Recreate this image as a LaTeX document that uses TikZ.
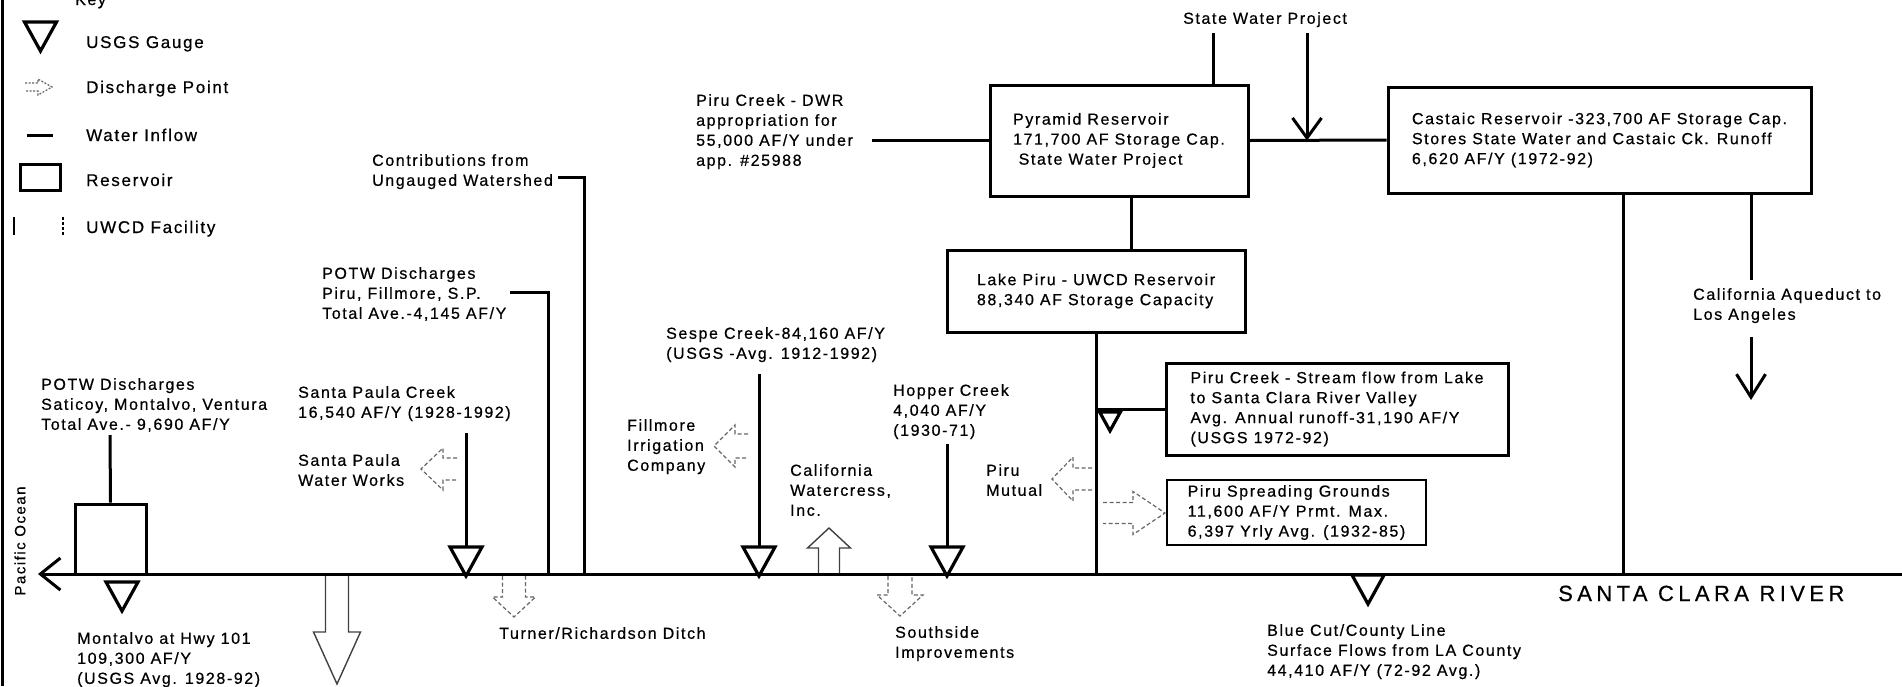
\documentclass[tikz,border=0pt]{standalone}
\usepackage{fontspec}
\setmainfont{Liberation Sans}[LetterSpace=10, FakeBold=0.6]
\usetikzlibrary{arrows.meta}

\begin{document}
\begin{tikzpicture}[
  x=1pt, y=-1pt,
  font=\fontsize{16}{20}\selectfont,
  every node/.style={inner sep=0pt},
  txt/.style={anchor=north west, align=left},
  keytxt/.style={anchor=base west, font=\fontsize{17}{20}\selectfont},
  flow/.style={line width=3pt},
  res/.style={draw, line width=3pt, align=left},
  outlet/.style={line width=1.2pt, black!60, dash pattern=on 4pt off 2.5pt},
  intake/.style={line width=1.4pt, black!75},
  barb/.style={-{Straight Barb[length=20pt, width=29pt]}},
  gauge/.pic={\draw[line width=3.2pt, fill=white, line join=miter] (-16,0) -- (16,0) -- (0,29) -- cycle;}
]
\useasboundingbox (0,0) rectangle (1902,686);
\draw[line width=3pt] (2,0) -- (2,686);

% key
\node[anchor=base west] (key) at (75,5) {Key};
\pic at (40.5,22) {gauge};
\node[keytxt] (k-gauge) at (86,48) {USGS Gauge};
\draw[outlet, dash pattern=on 2pt off 1.5pt, shift={(52,87)}] (-27,-4) -- (-14,-4) -- (-14,-8) -- (0,0) -- (-14,8) -- (-14,4) -- (-27,4);
\node[keytxt] (k-out) at (86,93) {Discharge Point};
\draw[flow] (27,135) -- (53,135);
\node[keytxt] (k-in) at (86,141) {Water Inflow};
\node[res, minimum width=40pt, minimum height=26pt] (k-box) at (40,177) {};
\node[keytxt] (k-res) at (86,186) {Reservoir};
\draw[line width=1.5pt] (14,217) -- (14,235);
\draw[line width=1.5pt, dash pattern=on 3pt off 2pt] (63,217) -- (63,235);
\node[keytxt] (k-uwcd) at (86,233) {UWCD Facility};

% reservoirs
\node[res, minimum width=258pt, minimum height=111pt] (pyramid) at (1119,140.5)
  {Pyramid Reservoir\\171,700 AF Storage Cap.\\\hspace*{0.35em}State Water Project};
\node[res, minimum width=423pt, minimum height=106pt] (castaic) at (1599.5,140)
  {Castaic Reservoir -323,700 AF Storage Cap.\\Stores State Water and Castaic Ck. Runoff\\6,620 AF/Y (1972-92)};
\node[res, minimum width=298pt, minimum height=82pt] (lakepiru) at (1096,291)
  {Lake Piru - UWCD Reservoir\\88,340 AF Storage Capacity};
\node[res, minimum width=342pt, minimum height=92pt] (stream) at (1337,409)
  {Piru Creek - Stream flow from Lake\\to Santa Clara River Valley\\Avg. Annual runoff-31,190 AF/Y\\(USGS 1972-92)};
\node[res, line width=1.5pt, minimum width=259pt, minimum height=65pt] (spreading) at (1296.5,512.5)
  {Piru Spreading Grounds\\11,600 AF/Y Prmt. Max.\\6,397 Yrly Avg. (1932-85)};
\node[res, minimum width=71pt, minimum height=70pt] (montbox) at (110.5,539) {};

% labels
\node[txt] (potwV) at (41,378) {POTW Discharges\\Saticoy, Montalvo, Ventura\\Total Ave.- 9,690 AF/Y};
\node[txt] (montalvo) at (77,632) {Montalvo at Hwy 101\\109,300 AF/Y\\(USGS Avg. 1928-92)};
\node[txt] (spc) at (298,386) {Santa Paula Creek\\16,540 AF/Y (1928-1992)};
\node[txt] (spww) at (298,454) {Santa Paula\\Water Works};
\node[txt] (contrib) at (372,154) {Contributions from\\Ungauged Watershed};
\node[txt] (potwP) at (322,267) {POTW Discharges\\Piru, Fillmore, S.P.\\Total Ave.-4,145 AF/Y};
\node[txt] (turner) at (499,627) {Turner/Richardson Ditch};
\node[txt] (fillmore) at (627,419) {Fillmore\\Irrigation\\Company};
\node[txt] (sespe) at (666,327) {Sespe Creek-84,160 AF/Y\\(USGS -Avg. 1912-1992)};
\node[txt] (calwc) at (790,464) {California\\Watercress,\\Inc.};
\node[txt] (southside) at (895,626) {Southside\\Improvements};
\node[txt] (hopper) at (893,384) {Hopper Creek\\4,040 AF/Y\\(1930-71)};
\node[txt] (mutual) at (986,464) {Piru\\Mutual};
\node[txt] (dwr) at (696,94) {Piru Creek - DWR\\appropriation for\\55,000 AF/Y under\\app. \#25988};
\node[txt] (swp) at (1183,12) {State Water Project};
\node[txt] (aqueduct) at (1693,288) {California Aqueduct to\\Los Angeles};
\node[txt] (bluecut) at (1267,624) {Blue Cut/County Line\\Surface Flows from LA County\\44,410 AF/Y (72-92 Avg.)};
\node[anchor=base west, font=\fontsize{22}{26}\selectfont\addfontfeature{LetterSpace=20}] (scr) at (1558,601) {SANTA CLARA RIVER};
\node[rotate=90, font=\fontsize{15}{18}\selectfont] (ocean) at (20,541) {Pacific Ocean};

% river and inflows
\coordinate (r-east) at (1902,574);
\coordinate (r-west) at (38,574);
\draw[flow, -{Straight Barb[length=20pt, width=32pt]}] (r-east) -- (r-west);

\coordinate (potwV-in) at (110,435);
\draw[flow] (potwV-in) -- (montbox.north);
\coordinate (spc-in) at (466,433);
\coordinate (spc-g) at (466,547);
\draw[flow] (spc-in) -- (spc-g);
\coordinate (potwP-in) at (510,292);
\coordinate (r-potwP) at (548,574);
\draw[flow] (potwP-in) -| (r-potwP);
\coordinate (contrib-in) at (558,177);
\coordinate (r-contrib) at (584,574);
\draw[flow] (contrib-in) -| (r-contrib);
\coordinate (sespe-in) at (759,374);
\coordinate (sespe-g) at (759,547);
\draw[flow] (sespe-in) -- (sespe-g);
\coordinate (hopper-in) at (947,444);
\coordinate (hopper-g) at (947,547);
\draw[flow] (hopper-in) -- (hopper-g);

\coordinate (dwr-in) at (872,140.5);
\draw[flow] (dwr-in) -- (pyramid.west);
\coordinate (swp-a) at (1213,33);
\draw[flow] (swp-a) -- (swp-a |- pyramid.north);
\coordinate (swp-b) at (1307,33);
\draw[flow, barb] (swp-b) -- (swp-b |- pyramid.east);
\draw[flow] (pyramid.east) -- (castaic.west);
\coordinate (pl) at (1131,196);
\draw[flow] (pl) -- (pl |- lakepiru.north);
\coordinate (r-lake) at (1096,574);
\draw[flow] (lakepiru.south) -- (r-lake);
\coordinate (lk-st) at (1096,409);
\draw[flow] (lk-st) -- (stream.west);
\coordinate (r-castaic) at (1623,574);
\draw[flow] (castaic.south -| r-castaic) -- (r-castaic);
\coordinate (aq-a) at (1751,280);
\draw[flow] (castaic.south -| aq-a) -- (aq-a);
\coordinate (aq-b) at (1751,337);
\coordinate (aq-c) at (1751,400);
\draw[flow, -{Straight Barb[length=23pt, width=29pt]}] (aq-b) -- (aq-c);

% gauges
\pic at (122,582) {gauge};
\pic at (466,547) {gauge};
\pic at (759,547) {gauge};
\pic at (947,547) {gauge};
\pic at (1368,575) {gauge};
\pic[scale=0.65] at (1110,412) {gauge};

% discharge points and diversions
\draw[outlet, shift={(421,469)}] (36,-11) -- (22,-11) -- (22,-21) -- (0,0) -- (22,21) -- (22,11) -- (36,11);
\draw[outlet, shift={(714,446)}] (34,-12) -- (21,-12) -- (21,-21) -- (0,0) -- (21,21) -- (21,12) -- (34,12);
\draw[outlet, shift={(1052,479)}] (40,-11) -- (21,-11) -- (21,-22) -- (0,0) -- (21,22) -- (21,11) -- (40,11);
\draw[outlet, shift={(1165,513)}] (-62,-10.5) -- (-32,-10.5) -- (-32,-21.5) -- (0,0) -- (-32,21.5) -- (-32,10.5) -- (-62,10.5);
\draw[outlet, shift={(514,617)}] (-11.5,-41) -- (-11.5,-20) -- (-21.5,-20) -- (0,0) -- (21.5,-20) -- (11.5,-20) -- (11.5,-41);
\draw[outlet, shift={(900,616)}] (-12,-40) -- (-12,-21) -- (-23,-21) -- (0,0) -- (23,-21) -- (12,-21) -- (12,-40);
\draw[intake, shift={(829,528)}] (-10.5,45) -- (-10.5,20) -- (-21.5,20) -- (0,0) -- (21.5,20) -- (10.5,20) -- (10.5,45);
\draw[intake, shift={(337,684)}] (-11.5,-108) -- (-11.5,-52) -- (-23.5,-52) -- (0,0) -- (23.5,-52) -- (11.5,-52) -- (11.5,-108);
\end{tikzpicture}
\end{document}
